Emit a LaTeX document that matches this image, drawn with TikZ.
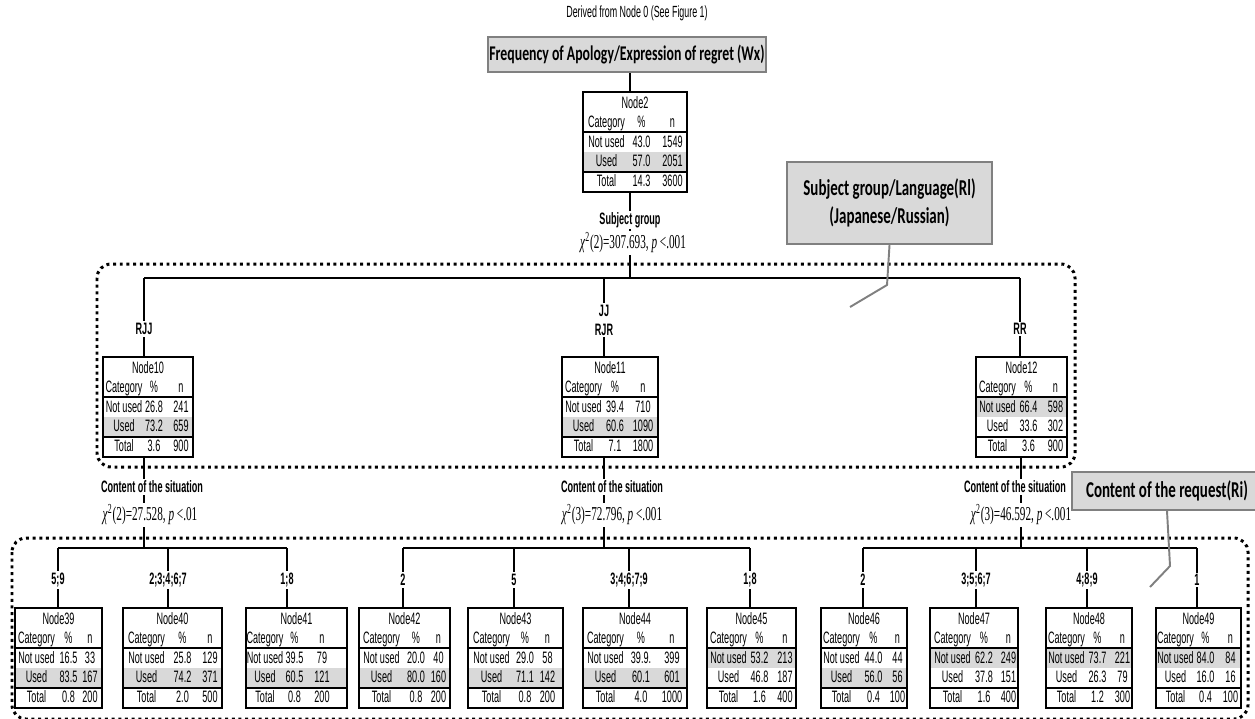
\documentclass[tikz,border=0pt]{standalone}
\usepackage{fontspec}
\setmainfont{Liberation Sans}[FakeStretch=0.55]
\newfontfamily\callfont{Carlito}[FakeStretch=0.66]
\newfontfamily\chifont{Liberation Serif}[FakeStretch=0.57]
\usetikzlibrary{calc}
\definecolor{boxgray}{HTML}{D9D9D9}
\definecolor{linegray}{HTML}{808080}

\begin{document}
\begin{tikzpicture}[x=0.2mm,y=-0.2mm,font=\fontsize{9.4}{10.8}\selectfont,
  tab/.style={draw,line width=1.1pt,inner sep=0pt,outer sep=0pt,minimum height=100*0.2mm},
  cell/.style={inner sep=0pt,text height=6.7pt,text depth=1.9pt},
  lbl/.style={font=\fontsize{9.4}{10.8}\selectfont\bfseries,fill=white,inner sep=1pt,align=center},
  chi/.style={font=\fontsize{11.2}{13}\selectfont\chifont,fill=white,inner sep=1pt},
  call/.style={draw=linegray,line width=1.2pt,fill=boxgray,font=\fontsize{12.9}{15.9}\selectfont\callfont\bfseries,align=center,inner sep=0pt},
  frame/.style={line width=1.7pt,dash pattern=on 1.7pt off 2.1pt,rounded corners=8pt},
  pin/.style={draw=linegray,line width=1.1pt},
  link/.style={line width=0.7pt}]

\useasboundingbox (0,0) rectangle (1255,718);

% dotted frames round the two levels
\draw[frame] (97,264) rectangle (1075,467);
\draw[frame] (12,538) rectangle (1248,719);

\node[font=\fontsize{9.2}{10}\selectfont] (src) at (637,13) {Derived from Node 0 (See Figure 1)};
\node[call,font=\fontsize{11.9}{14}\selectfont\callfont\bfseries,minimum width=278*0.2mm,minimum height=35*0.2mm] (title) at (627,54.5) {Frequency of Apology/Expression of regret (Wx)};

% the tables
\foreach \nm/\xl/\xr/\ty/\ca/\cb/\cc/\pa/\na/\pb/\nb/\pt/\nt/\hl in {
    2/583/687/92/23.5/58.5/89.5/43.0/1549/57.0/2051/14.3/3600/2,
    10/103/193/357/21/51/78/26.8/241/73.2/659/3.6/900/2,
    11/562/658/357/21.5/53/81/39.4/710/60.6/1090/7.1/1800/2,
    12/976/1067/357/21.5/52.5/79.5/66.4/598/33.6/302/3.6/900/1,
    39/15/102/608/21.5/53.5/75/16.5/33/83.5/167/0.8/200/2,
    40/123/222/608/23.5/59.5/87/25.8/129/74.2/371/2.0/500/2,
    41/246/347/608/19/48.5/76/39.5/79/60.5/121/0.8/200/2,
    42/359/450/608/22.5/57/79.5/20.0/40/80.0/160/0.8/200/2,
    43/468/563/608/23.5/57/79.5/29.0/58/71.1/142/0.8/200/2,
    44/583/687/608/22.5/58/89/39.9./399/60.1/601/4.0/1000/2,
    45/707/796/608/21.5/52.5/78/53.2/213/46.8/187/1.6/400/1,
    46/821/907/608/20.5/52.5/76.5/44.0/44/56.0/56/0.4/100/2,
    47/930/1018/608/22.5/54/78.5/62.2/249/37.8/151/1.6/400/1,
    48/1046/1132/608/20.5/51.5/76.5/73.7/221/26.3/79/1.2/300/1,
    49/1156/1241/608/19.5/49.5/74.5/84.0/84/16.0/16/0.4/100/1} {
  \node[tab,minimum width={(\xr-\xl)*0.2mm}] (N\nm) at ({(\xl+\xr)/2},\ty+50) {};
  \pgfmathsetmacro\bt{\hl==1 ? 41 : 60}
  \fill[boxgray] ($(N\nm.north west)+(1,\bt)$) rectangle ($(N\nm.north east)+(-1,\bt+19)$);
  \draw[line width=1.1pt] ($(N\nm.north west)+(0,40)$) -- ($(N\nm.north east)+(0,40)$);
  \draw[line width=1.1pt] ($(N\nm.north west)+(0,80)$) -- ($(N\nm.north east)+(0,80)$);
  \node[cell] (N\nm t) at ({(\xl+\xr)/2},\ty+12) {Node\nm};
  \foreach \rw/\yy/\ta/\tp/\tn in {h/31/Category/\%/n, a/51/Not used/\pa/\na, b/70/Used/\pb/\nb, c/90/Total/\pt/\nt} {
    \node[cell] (N\nm\rw1) at (\xl+\ca,\ty+\yy) {\ta};
    \node[cell] (N\nm\rw2) at (\xl+\cb,\ty+\yy) {\tp};
    \node[cell] (N\nm\rw3) at (\xl+\cc,\ty+\yy) {\tn};
  }
}

% first split
\coordinate (s0) at (630,278);
\draw[link] (title.south -| s0) -- (s0 |- N2.north);
\draw[link] (s0 |- N2.south) -- (s0);
\node[lbl] (sg) at (630,220) {Subject group};
\node[chi] (x2) at (633,243) {\textit{χ}\textsuperscript{2}(2)=307.693, \textit{p} <.001};
\foreach \nm/\sx/\lab/\ly in {10/144/RJJ/329, 11/604/{JJ\\RJR}/320, 12/1020/RR/329} {
  \coordinate (b\nm) at (\sx,278);
  \draw[link] (b\nm) -- (b\nm |- N\nm.north);
  \node[lbl] (l\nm) at (\sx,\ly) {\lab};
}
\draw[link] (b10) -- (b12);

% second split
\foreach \nm/\px/\lx/\cx/\stat in {10/144/152/150/{\textit{χ}\textsuperscript{2}(2)=27.528, \textit{p} <.01},
    11/604/612/612/{\textit{χ}\textsuperscript{2}(3)=72.796, \textit{p} <.001},
    12/1021/1015/1021/{\textit{χ}\textsuperscript{2}(3)=46.592, \textit{p} <.001}} {
  \coordinate (p\nm) at (\px,548);
  \draw[link] (N\nm.south -| p\nm) -- (p\nm);
  \node[lbl] (c\nm) at (\lx,487) {Content of the situation};
  \node[chi] (x\nm) at (\cx,515) {\stat};
}
\foreach \nm/\sx/\lab in {39/58/{5;9}, 40/168/{2;3;4;6;7}, 41/287/{1;8}, 42/403/2, 43/514/5,
    44/629/{3;4;6;7;9}, 45/750/{1;8}, 46/863/2, 47/976/{3;5;6;7}, 48/1087/{4;8;9}, 49/1197/1} {
  \coordinate (b\nm) at (\sx,548);
  \draw[link] (b\nm) -- (b\nm |- N\nm.north);
  \node[lbl] (l\nm) at (\sx,580) {\lab};
}
\draw[link] (b39) -- (b41);
\draw[link] (b42) -- (b45);
\draw[link] (b46) -- (b49);

% callouts
\node[call,minimum width=205*0.2mm,minimum height=82*0.2mm] (cl1) at (889.5,203) {Subject group/Language(Rl)\\(Japanese/Russian)};
\coordinate (k1) at (887,285);
\coordinate (e1) at (850,307);
\draw[pin] (cl1.south) -- (k1) -- (e1);
\node[call,minimum width=190*0.2mm,minimum height=38*0.2mm] (cl2) at (1167,491) {Content of the request(Ri)};
\coordinate (k2) at (1170,566);
\coordinate (e2) at (1150,587);
\draw[pin] (cl2.south) -- (k2) -- (e2);
\end{tikzpicture}
\end{document}
